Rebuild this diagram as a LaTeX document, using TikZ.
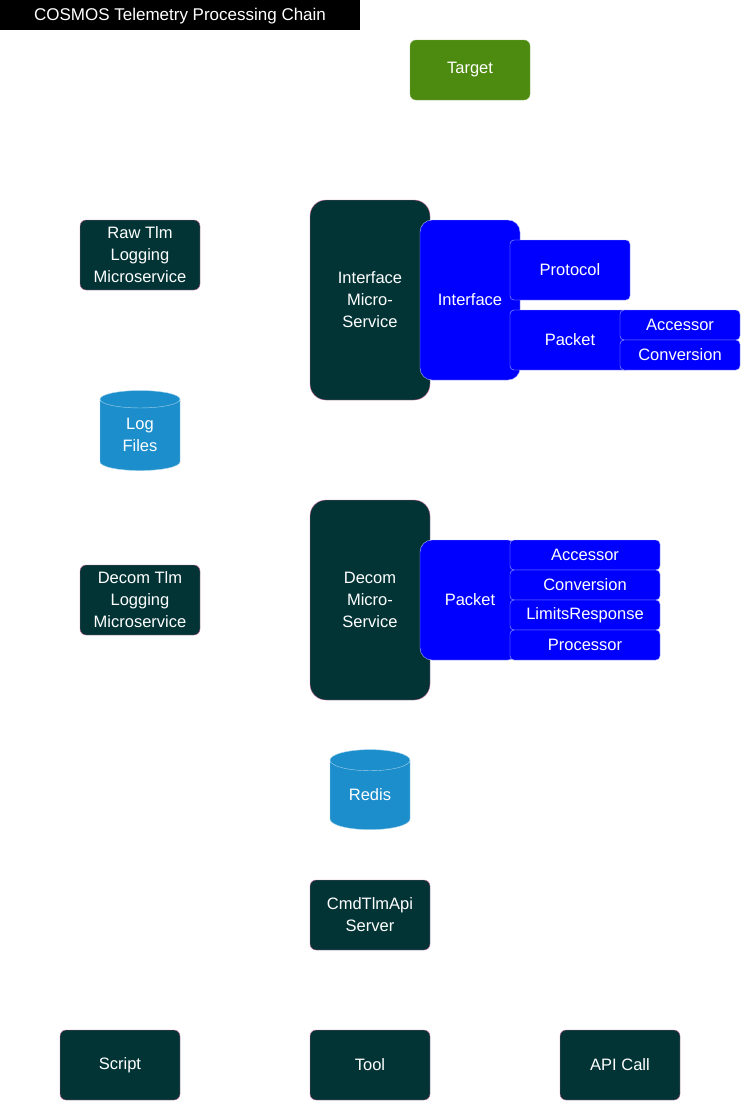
\documentclass[tikz,border=0pt]{standalone}
\usepackage{fontspec}
\setmainfont{Liberation Sans}
\usetikzlibrary{shapes.geometric}
\definecolor{darkbox}{HTML}{023436}
\definecolor{pinkline}{HTML}{D46A9E}
\definecolor{tgtgreen}{HTML}{4D8A10}
\definecolor{cylblue}{HTML}{1B8ECB}
\begin{document}
\begin{tikzpicture}[x=1pt, y=-1pt,
    svc/.style={draw=pinkline, fill=darkbox, rounded corners=6pt, text=white, align=center, font=\fontsize{16.5}{22}\selectfont},
    blu/.style={draw=white!70!blue, fill=blue, rounded corners=4pt, text=white, align=center, font=\fontsize{16.5}{20}\selectfont},
    db/.style={cylinder, shape border rotate=90, aspect=0.5, draw=white!60!cylblue, fill=cylblue, text=white, align=center, minimum width=80pt, minimum height=80pt, font=\fontsize{16.5}{22}\selectfont, inner sep=0pt}
  ]
  \useasboundingbox (0,0) rectangle (742,1111);

  \fill[black] (0,0) rectangle (360,30);
  \node[text=white, font=\fontsize{17}{18}\selectfont] (title) at (180,16) {COSMOS Telemetry Processing Chain};

  \node[svc, draw=tgtgreen!70!white, fill=tgtgreen, minimum width=120pt, minimum height=60pt] (target) at (470,70) {Target};

  \node[svc, minimum width=120pt, minimum height=70pt] (rawlog) at (140,255) {Raw Tlm\\Logging\\Microservice};
  \node[svc, rounded corners=16pt, minimum width=120pt, minimum height=200pt] (ifsvc) at (370,300) {Interface\\Micro-\\Service};
  \node[blu, rounded corners=12pt, minimum width=100pt, minimum height=160pt] (iface) at (470,300) {Interface};
  \node[blu, minimum width=120pt, minimum height=60pt] (proto) at (570,270) {Protocol};
  \node[blu, minimum width=120pt, minimum height=60pt] (ifpkt) at (570,340) {Packet};
  \node[blu, minimum width=120pt, minimum height=30pt] (ifacc) at (680,325) {Accessor};
  \node[blu, minimum width=120pt, minimum height=30pt] (ifconv) at (680,355) {Conversion};

  \node[db] (logs) at (140,435) {Log\\Files};

  \node[svc, minimum width=120pt, minimum height=70pt] (decomlog) at (140,600) {Decom Tlm\\Logging\\Microservice};
  \node[svc, rounded corners=16pt, minimum width=120pt, minimum height=200pt] (decsvc) at (370,600) {Decom\\Micro-\\Service};
  \node[blu, rounded corners=12pt, minimum width=100pt, minimum height=120pt] (decpkt) at (470,600) {Packet};
  \foreach \nm/\txt [count=\i] in {acc/Accessor, conv/Conversion, lim/LimitsResponse, proc/Processor}
    \node[blu, minimum width=150pt, minimum height=30pt] (dec\nm) at (585,525+30*\i) {\txt};

  \node[db] (redis) at (370,795) {Redis};

  \node[svc, minimum width=120pt, minimum height=70pt] (api) at (370,915) {CmdTlmApi\\Server};

  \node[svc, minimum width=120pt, minimum height=70pt] (script) at (120,1065) {Script};
  \node[svc, minimum width=120pt, minimum height=70pt] (tool) at (370,1065) {Tool};
  \node[svc, minimum width=120pt, minimum height=70pt] (apicall) at (620,1065) {API Call};
\end{tikzpicture}
\end{document}
